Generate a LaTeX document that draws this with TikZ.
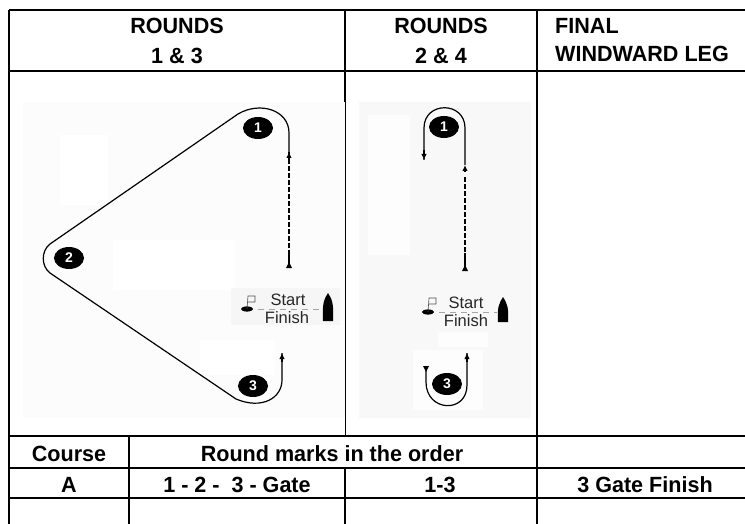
\documentclass[tikz,border=0pt]{standalone}
\usepackage{fontspec}
\setmainfont{Liberation Sans}
\newfontfamily\headfont[FakeStretch=0.98]{Liberation Sans Bold}
\usetikzlibrary{arrows.meta,shapes.geometric}
\definecolor{photoa}{HTML}{FCFCFC}
\definecolor{photob}{HTML}{F8F8F8}
\definecolor{band}{HTML}{F6F6F6}
\definecolor{patch}{HTML}{FDFDFD}
\tikzset{
  grid thick/.style={line width=1.7pt,black},
  grid thin/.style={line width=0.9pt,black},
  head/.style={font=\headfont\fontsize{22}{22}\selectfont,inner sep=0pt,text=black},
  markdot/.style={ellipse,fill=black,text=white,inner sep=0pt,minimum width=30pt,minimum height=22pt,font=\bfseries\fontsize{14}{14}\selectfont},
  course/.style={line width=1.2pt,black,line join=round},
  tipped/.style={line width=1.2pt,black,-{Latex[length=6pt,width=5.5pt]}},
  layline/.style={line width=1.3pt,black,dash pattern=on 5pt off 2pt},
  gateline/.style={line width=0.8pt,gray!70,dash pattern=on 6pt off 5pt},
  lab/.style={font=\fontsize{16.5}{16.5}\selectfont,inner sep=0pt,text=black!85},
  pale/.style={fill=patch,draw=none}
}
\begin{document}
\begin{tikzpicture}[x=1pt,y=-1pt]
\useasboundingbox (0,0) rectangle (745,524);
% photo backgrounds
\fill[photoa] (23,102) rectangle (345,418);
\fill[photob] (359,102) rectangle (531,418);
\fill[white] (113,240) rectangle (235,290);
\fill[white] (60,135) rectangle (108,205);
\fill[white] (200,340) rectangle (275,375);
\fill[pale] (368,115) rectangle (410,255);
\fill[pale] (413,350) rectangle (483,410);
\fill[band] (231,288) rectangle (340,325);
\fill[pale] (438,332) rectangle (488,347);
% table grid
\draw[grid thick] (9,10) -- (745,10);
\draw[grid thick] (9,71) -- (745,71);
\draw[grid thick] (9,436) -- (745,436);
\draw[grid thick] (9,468) -- (745,468);
\draw[grid thick] (9,498) -- (745,498);
\draw[grid thick] (9,10) -- (9,524);
\draw[grid thick] (537,10) -- (537,524);
\draw[grid thick] (129,436) -- (129,524);
\draw[grid thick] (345,10) -- (345,102);
\draw[grid thin] (345,102) -- (345,436);
\draw[grid thick] (345,468) -- (345,524);
% header and table text
\node[head] (h1a) at (177,26) {ROUNDS};
\node[head] (h1b) at (177,56) {1 \& 3};
\node[head] (h2a) at (441,26) {ROUNDS};
\node[head] (h2b) at (441,56) {2 \& 4};
\node[head,anchor=west] (h3a) at (555,26) {FINAL};
\node[head,anchor=west] (h3b) at (555,54) {WINDWARD LEG};
\node[head] (c1) at (69,454) {Course};
\node[head] (c2) at (332,454) {Round marks in the order};
\node[head] (r1) at (69,485) {A};
\node[head] (r2) at (237,485) {1 - 2 -\ \ 3 - Gate};
\node[head] (r3) at (440,485) {1-3};
\node[head] (r4) at (645,485) {3 Gate Finish};
% left course
\node[markdot] (m1) at (258,128) {1};
\node[markdot] (m2) at (69,258) {2};
\node[markdot] (m3) at (253,386) {3};
\coordinate (a0) at (282,353);
\coordinate (a1) at (282,380);
\coordinate (a2) at (236,399);
\coordinate (a3) at (50,273);
\coordinate (a4) at (50,244);
\coordinate (a5) at (238,114);
\coordinate (a6) at (289,133);
\coordinate (a7) at (289,152);
\coordinate (a8) at (289,252);
\coordinate (a9) at (289,268);
\draw[course] (a0) -- (a1) .. controls (282,398) and (262,410) .. (a2) -- (a3)
  .. controls (41,266) and (41,251) .. (a4) -- (a5)
  .. controls (260,101) and (289,110) .. (a6) -- (a7);
\draw[tipped] (282,362) -- (a0);
\draw[tipped] (289,160) -- (a7);
\draw[layline] (a7) -- (a8);
\draw[course] (a8) -- (a9);
\fill (a9) ++(-3,0) -- ++(6,0) -- ++(-3,-6) -- cycle;
% left start line
\coordinate (fa) at (247,309);
\coordinate (ba) at (322,309);
\draw[gateline] (fa) -- (ba);
\fill (fa) ellipse (6pt and 2.6pt);
\draw[line width=0.6pt,black!70] (fa) -- (248,296) -- (255,296) -- (255,302) -- (248,302);
\node[lab] (s1) at (288,300) {Start};
\node[lab] (f1) at (287,318) {Finish};
\fill (328,293) .. controls (332,299) and (334,304) .. (333,321) -- (323,321) .. controls (322,304) and (324,299) .. (328,293) -- cycle;
% right course
\node[markdot] (n1) at (444,127) {1};
\node[markdot] (n3) at (447,384) {3};
\coordinate (b0) at (424,160);
\coordinate (b1) at (424,128);
\coordinate (b2) at (465,128);
\coordinate (b3) at (465,165);
\coordinate (b4) at (465,177);
\coordinate (b5) at (465,253);
\coordinate (b6) at (465,271);
\draw[course] (b0) -- (b1) .. controls (424,101) and (465,101) .. (b2) -- (b3);
\draw[tipped] (424,150) -- (b0);
\draw[tipped] (465,172) -- (b3);
\draw[layline] (b4) -- (b5);
\draw[course] (b5) -- (b6);
\fill (b6) ++(-3,0) -- ++(6,0) -- ++(-3,-6) -- cycle;
\coordinate (d0) at (426,368);
\coordinate (d1) at (426,382);
\coordinate (d2) at (467,385);
\coordinate (d3) at (467,353);
\draw[course] (d0) -- (d1) .. controls (426,412) and (467,414) .. (d2) -- (d3);
\draw[tipped] (467,362) -- (d3);
\fill (423,366) -- (429,366) -- (426,372) -- cycle;
% right start line
\coordinate (fb) at (428,312);
\coordinate (bb) at (497,312);
\draw[gateline] (fb) -- (bb);
\fill (fb) ellipse (6pt and 2.6pt);
\draw[line width=0.6pt,black!70] (fb) -- (429,298) -- (436,298) -- (436,304) -- (429,304);
\node[lab] (s2) at (466,303) {Start};
\node[lab] (f2) at (466,321) {Finish};
\fill (503,297) .. controls (507,303) and (509,308) .. (508,322) -- (498,322) .. controls (497,308) and (499,303) .. (503,297) -- cycle;
\end{tikzpicture}
\end{document}
